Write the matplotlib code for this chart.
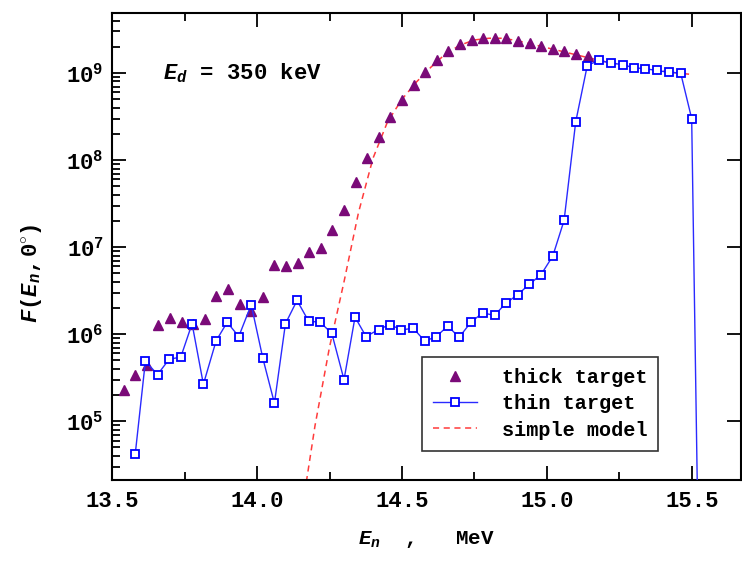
import matplotlib
matplotlib.use("Agg")
import matplotlib.pyplot as plt
from matplotlib.ticker import MultipleLocator, LogLocator, NullFormatter

plt.rcParams['font.family'] = ['Liberation Mono', 'DejaVu Sans']
plt.rcParams['font.weight'] = 'bold'
plt.rcParams['axes.labelweight'] = 'bold'
plt.rcParams['mathtext.fontset'] = 'custom'
plt.rcParams['mathtext.rm'] = 'Liberation Mono:bold'
plt.rcParams['mathtext.it'] = 'Liberation Mono:bold:italic'
plt.rcParams['mathtext.bf'] = 'Liberation Mono:bold'

# thick target (triangles)
thick_E = [13.54, 13.58, 13.62, 13.66, 13.70, 13.74, 13.78, 13.82, 13.86, 13.90,
           13.94, 13.98, 14.02, 14.06, 14.10, 14.14, 14.18, 14.22, 14.26, 14.30,
           14.34, 14.38, 14.42, 14.46, 14.50, 14.54, 14.58, 14.62, 14.66, 14.70,
           14.74, 14.78, 14.82, 14.86, 14.90, 14.94, 14.98, 15.02, 15.06, 15.10,
           15.14]
thick_F = [2.3e5, 3.4e5, 4.4e5, 1.27e6, 1.53e6, 1.39e6, 1.32e6, 1.50e6, 2.75e6, 3.3e6,
           2.2e6, 1.86e6, 2.66e6, 6.3e6, 6.0e6, 6.5e6, 8.7e6, 9.8e6, 1.58e7, 2.7e7,
           5.6e7, 1.06e8, 1.86e8, 3.1e8, 4.9e8, 7.2e8, 1.02e9, 1.40e9, 1.78e9, 2.14e9,
           2.40e9, 2.55e9, 2.55e9, 2.51e9, 2.34e9, 2.19e9, 2.04e9, 1.91e9, 1.78e9, 1.66e9,
           1.55e9]

# thin target (squares + line)
thin_E = [13.58, 13.615, 13.657, 13.697, 13.737, 13.776, 13.815, 13.859, 13.897, 13.937,
          13.98, 14.02, 14.06, 14.098, 14.138, 14.178, 14.218, 14.258, 14.30, 14.338,
          14.376, 14.419, 14.458, 14.498, 14.539, 14.579, 14.618, 14.658, 14.697, 14.739,
          14.779, 14.819, 14.858, 14.899, 14.939, 14.979, 15.02, 15.059, 15.099, 15.139,
          15.179, 15.221, 15.261, 15.299, 15.339, 15.379, 15.42, 15.461, 15.499, 15.52]
thin_F = [4.2e4, 4.9e5, 3.44e5, 5.16e5, 5.45e5, 1.32e6, 2.66e5, 8.4e5, 1.37e6, 9.4e5,
          2.18e6, 5.3e5, 1.61e5, 1.32e6, 2.44e6, 1.41e6, 1.37e6, 1.02e6, 3.0e5, 1.57e6,
          9.4e5, 1.13e6, 1.29e6, 1.12e6, 1.17e6, 8.3e5, 9.4e5, 1.24e6, 9.2e5, 1.39e6,
          1.76e6, 1.64e6, 2.27e6, 2.84e6, 3.75e6, 4.8e6, 7.9e6, 2.03e7, 2.74e8, 1.22e9,
          1.40e9, 1.30e9, 1.25e9, 1.15e9, 1.12e9, 1.07e9, 1.02e9, 1.0e9, 3.0e8, 8e3]

# simple model (dashed)
model_E = [14.17, 14.20, 14.25, 14.30, 14.35, 14.40, 14.45, 14.50, 14.55, 14.60,
           14.65, 14.70, 14.75, 14.80, 14.85, 14.90, 14.95, 15.00, 15.05, 15.10,
           15.15, 15.20, 15.25, 15.30, 15.35, 15.40, 15.45, 15.49]
model_F = [2.0e4, 8.9e4, 7.1e5, 4.0e6, 2.5e7, 1.05e8, 2.75e8, 5.0e8, 7.9e8, 1.17e9,
           1.66e9, 2.09e9, 2.40e9, 2.51e9, 2.51e9, 2.34e9, 2.14e9, 1.95e9, 1.78e9, 1.62e9,
           1.48e9, 1.35e9, 1.26e9, 1.17e9, 1.10e9, 1.05e9, 1.0e9, 9.7e8]

fig = plt.figure(figsize=(7.42, 5.63), dpi=100)
ax = fig.add_axes([0.151, 0.147, 0.848, 0.830])

ax.plot(thick_E, thick_F, ls='none', marker='^', ms=6.5, color='#7a0a78',
        label='thick target', zorder=3)
ax.plot(thin_E, thin_F, color='#2a2aff', lw=1.0, marker='s', ms=5.5,
        mfc='white', mec='#0000ff', mew=1.3, label='thin target', zorder=4)
ax.plot(model_E, model_F, color='#ff3b3b', lw=1.1, ls=(0, (4, 3)),
        label='simple model', zorder=2)

ax.set_yscale('log')
ax.set_xlim(13.5, 15.67)
ax.set_ylim(2.1e4, 4.9e9)

ax.xaxis.set_major_locator(MultipleLocator(0.5))
ax.xaxis.set_minor_locator(MultipleLocator(0.25))
ax.xaxis.set_major_formatter(plt.FuncFormatter(lambda v, p: f"{v:.1f}"))
ax.yaxis.set_major_locator(LogLocator(base=10, numticks=12))
ax.yaxis.set_minor_locator(LogLocator(base=10, subs=range(2, 10), numticks=12))
ax.yaxis.set_minor_formatter(NullFormatter())

ax.tick_params(which='both', direction='in', top=True, right=True, width=1.3,
               labelsize=16, pad=8)
ax.tick_params(which='major', length=10)
ax.tick_params(which='minor', length=6)
ax.tick_params(axis='y', which='minor', right=False)
ax.tick_params(axis='y', which='major', pad=6)
for sp in ax.spines.values():
    sp.set_linewidth(1.5)

ax.set_xlabel(r"$E_n$  ,   MeV", fontsize=15, fontweight='bold', labelpad=12)
fig.text(0.042, 0.515, r"$F(E_n,0^{\circ})$", rotation=90, fontsize=16,
         ha='center', va='center')
ax.text(0.081, 0.87, r"$E_d$ = 350 keV", transform=ax.transAxes, fontsize=16,
        ha='left', va='center')

leg = ax.legend(loc='upper right', bbox_to_anchor=(0.868, 0.263), borderaxespad=0,
                fontsize=14.5, frameon=True, fancybox=False, edgecolor='black',
                handlelength=2.2, borderpad=0.55, labelspacing=0.35, handletextpad=1.2)
leg.get_frame().set_linewidth(1.2)

fig.savefig('out.png', dpi=100)
